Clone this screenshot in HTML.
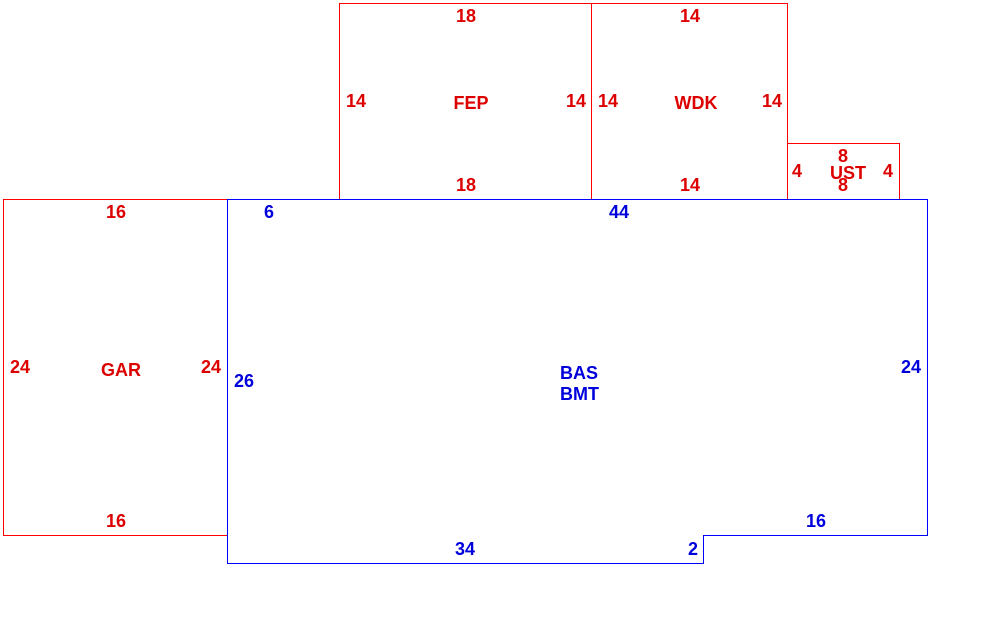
<!DOCTYPE html>
<html><head><style>body{margin:0;background:#fff}
.bx{position:absolute;box-sizing:border-box;border:1px solid #ff0000}
.ln{position:absolute;background:#0000ff}
svg{position:absolute;left:0;top:0}
svg text{font-family:"Liberation Sans",sans-serif;font-size:18px;font-weight:bold}</style></head>
<body>
<div class="bx" style="left:339px;top:3px;width:253px;height:197px"></div>
<div class="bx" style="left:591px;top:3px;width:197px;height:197px"></div>
<div class="bx" style="left:787px;top:143px;width:113px;height:57px"></div>
<div class="bx" style="left:3px;top:199px;width:225px;height:337px"></div>
<div class="ln" style="left:227px;top:199px;width:701px;height:1px"></div>
<div class="ln" style="left:927px;top:199px;width:1px;height:337px"></div>
<div class="ln" style="left:703px;top:535px;width:225px;height:1px"></div>
<div class="ln" style="left:703px;top:535px;width:1px;height:29px"></div>
<div class="ln" style="left:227px;top:563px;width:477px;height:1px"></div>
<div class="ln" style="left:227px;top:199px;width:1px;height:365px"></div>
<svg width="990" height="630" xmlns="http://www.w3.org/2000/svg">
<g style="fill:#dd0000" text-anchor="middle" dominant-baseline="central">
<text x="466" y="16">18</text><text x="356" y="101">14</text><text x="471" y="103">FEP</text><text x="576" y="101">14</text><text x="466" y="185">18</text>
<text x="690" y="16">14</text><text x="608" y="101">14</text><text x="696" y="103">WDK</text><text x="772" y="101">14</text><text x="690" y="185">14</text>
<text x="843" y="156">8</text><text x="797" y="171">4</text><text x="848" y="173">UST</text><text x="888" y="171">4</text><text x="843" y="185">8</text>
<text x="116" y="212">16</text><text x="20" y="367">24</text><text x="121" y="370">GAR</text><text x="211" y="367">24</text><text x="116" y="521">16</text>
</g>
<g style="fill:#0000dd" text-anchor="middle" dominant-baseline="central">
<text x="269" y="212">6</text><text x="619" y="212">44</text><text x="244" y="381">26</text><text x="911" y="367">24</text>
<text x="560" y="373" text-anchor="start">BAS</text><text x="560" y="394" text-anchor="start">BMT</text>
<text x="816" y="521">16</text><text x="465" y="549">34</text><text x="693" y="549">2</text>
</g>
</svg></body></html>
